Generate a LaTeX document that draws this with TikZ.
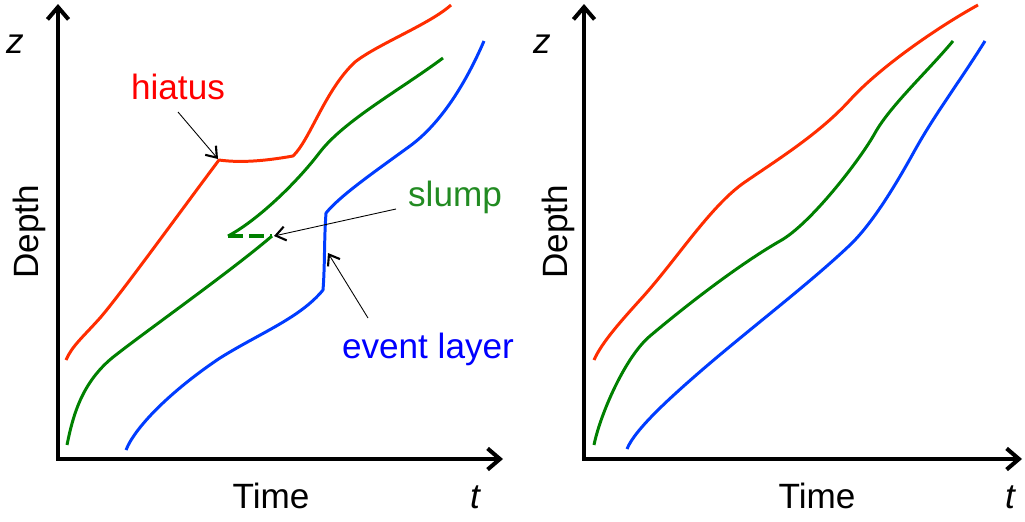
\documentclass[tikz,border=0pt]{standalone}
\usepackage{fontspec}
\setmainfont{Liberation Sans}
\usetikzlibrary{arrows.meta}
\definecolor{cred}{RGB}{255,45,0}
\definecolor{cgreen}{RGB}{0,128,0}
\definecolor{cblue}{RGB}{0,60,255}
\definecolor{tred}{RGB}{255,0,0}
\definecolor{tgreen}{RGB}{34,139,34}
\definecolor{tblue}{RGB}{0,0,255}
\tikzset{
  axis/.style={line width=2.3pt, line cap=rect, -{Straight Barb[length=7pt,width=12pt,line width=2.3pt]}},
  curve/.style={line width=1.7pt, line join=round},
  pointer/.style={line width=0.5pt, -{Straight Barb[length=5.5pt,width=8pt,line width=1.2pt]}},
  lbl/.style={font=\fontsize{20}{24}\selectfont, inner sep=0pt, anchor=base},
  vlbl/.style={font=\fontsize{20}{24}\selectfont\itshape, inner sep=0pt, anchor=base},
}
\begin{document}
\begin{tikzpicture}[x=0.02cm,y=-0.02cm]
\useasboundingbox (0,0) rectangle (1025,521);
% ---------- left panel ----------
\coordinate (O1) at (58,459);
\coordinate (Y1) at (58,4);
\coordinate (X1) at (503,459);
\draw[axis] (O1) -- (Y1);
\draw[axis] (O1) -- (X1);
\node[vlbl] (z1) at (15,53) {z};
\node[vlbl] (t1) at (475,508) {t};
\node[lbl] (time1) at (271,508) {Time};
\node[lbl, rotate=90] (depth1) at (38,232) {Depth};

% red with hiatus
\draw[curve, cred] (66,360) .. controls (72,346) and (83,337) .. (100,318)
  .. controls (120,295) and (180,212) .. (219,160)
  .. controls (240,163) and (265,161) .. (293,156)
  .. controls (310,140) and (325,90) .. (355,62)
  .. controls (378,44) and (430,24) .. (451,5);
% green with slump
\draw[curve, cgreen] (67,445) .. controls (73,415) and (82,383) .. (112,358)
  .. controls (142,334) and (230,272) .. (272,236);
\draw[curve, cgreen] (228,236) .. controls (255,222) and (295,185) .. (320,152)
  .. controls (345,120) and (400,90) .. (443,58);
\coordinate (s1) at (228,236);
\coordinate (s2) at (272,236);
\draw[curve, cgreen, line width=2pt, dash pattern=on 8.5pt off 3.5pt] (s1) -- (s2);
% blue with event layer
\draw[curve, cblue] (126,450) .. controls (136,425) and (175,388) .. (220,358)
  .. controls (260,333) and (300,318) .. (323,290)
  .. controls (325,265) and (324,240) .. (326,213)
  .. controls (340,196) and (370,175) .. (410,146)
  .. controls (440,124) and (465,85) .. (484,41);

\node[lbl, text=tred] (hiatus) at (178,99) {hiatus};
\node[lbl, text=tgreen] (slump) at (455,206) {slump};
\node[lbl, text=tblue] (event) at (428,358) {event layer};
\coordinate (hA) at (178,112);
\coordinate (hB) at (218,159);
\coordinate (sA) at (396,209);
\coordinate (sB) at (274,236);
\coordinate (eA) at (368,318);
\coordinate (eB) at (328,253);
\draw[pointer] (hA) -- (hB);
\draw[pointer] (sA) -- (sB);
\draw[pointer] (eA) -- (eB);

% ---------- right panel ----------
\coordinate (O2) at (584,459);
\coordinate (Y2) at (584,4);
\coordinate (X2) at (1022,459);
\draw[axis] (O2) -- (Y2);
\draw[axis] (O2) -- (X2);
\node[vlbl] (z2) at (542,53) {z};
\node[vlbl] (t2) at (1010,508) {t};
\node[lbl] (time2) at (817,508) {Time};
\node[lbl, rotate=90] (depth2) at (567,232) {Depth};

\draw[curve, cred] (594,360) .. controls (602,342) and (622,320) .. (640,300)
  .. controls (675,262) and (710,206) .. (745,182)
  .. controls (780,158) and (820,133) .. (850,100)
  .. controls (880,67) and (938,27) .. (978,5);
\draw[curve, cgreen] (594,445) .. controls (600,415) and (625,357) .. (650,336)
  .. controls (695,298) and (745,261) .. (780,241)
  .. controls (810,224.5) and (860,160) .. (875,133)
  .. controls (890,106) and (928,71) .. (953,41);
\draw[curve, cblue] (627,449) .. controls (635,429) and (672,396) .. (702,370)
  .. controls (752,327) and (810,283) .. (850,245)
  .. controls (875,221) and (900,177) .. (915,150)
  .. controls (935,114) and (960,81) .. (985,41);
\end{tikzpicture}
\end{document}
